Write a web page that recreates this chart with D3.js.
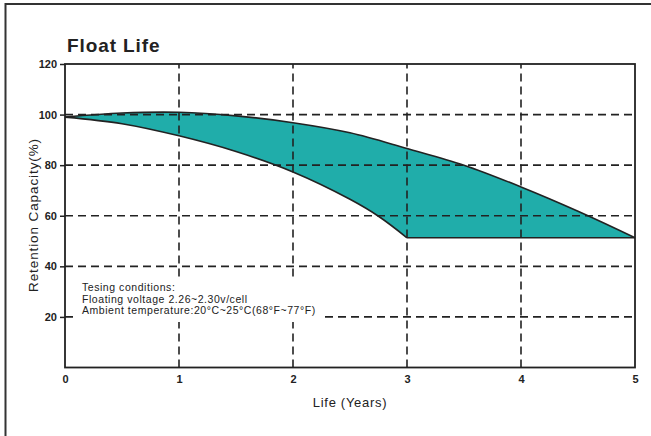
<!DOCTYPE html>
<html>
<head>
<meta charset="utf-8">
<script src="https://cdn.jsdelivr.net/npm/d3@7"></script>
<style>
  body { margin: 0; background: #fff; }
  text { font-family: "Liberation Sans", Arial, sans-serif; fill: #222; }
</style>
</head>
<body>
<svg id="chart" width="651" height="436"></svg>
<script>
// values
var years = [0, 0.5, 1, 1.5, 2, 2.5, 3, 3.5, 4, 4.5, 5];
var upperCap = [99, 100.6, 100.9, 99.5, 96.8, 92.8, 86.6, 80, 71.4, 61.8, 51.3];
var lowerYears = [0, 0.5, 1, 1.5, 2, 2.5, 2.75, 3];
var lowerCap = [99, 96.4, 91.6, 85.4, 77.3, 66.5, 59.8, 51.3];
var floorCap = 51.3; // flat end of the lower curve, year 3 to 5
var xTicks = [0, 1, 2, 3, 4, 5];
var yTicks = [20, 40, 60, 80, 100, 120];
var notes = ["Tesing conditions:", "Floating voltage 2.26~2.30v/cell", "Ambient temperature:20°C~25°C(68°F~77°F)"];

var svg = d3.select("#chart");
var pLeft = 65, pRight = 635, pTop = 64, pBottom = 367.5;

var x = d3.scaleLinear().domain([0, 5]).range([pLeft, pRight]);
var y = d3.scaleLinear().domain([0, 120]).range([pBottom, pTop]);
var smooth = d3.curveCatmullRom.alpha(0.5);

// outer frame
svg.append("path").attr("d", "M5.5,440 L5.5,4 L660,4")
  .attr("fill", "none").attr("stroke", "#333").attr("stroke-width", 2);

svg.append("text").attr("x", 67).attr("y", 52)
  .style("font-size", "19px").style("font-weight", "bold").style("letter-spacing", "0.9px").text("Float Life");

// teal band: area under upper curve down to floor, then white mask under lower curve
svg.append("path").datum(years.map(function (d, i) { return [d, upperCap[i]]; }))
  .attr("fill", "#20ADAA")
  .attr("d", d3.area().curve(smooth)
    .x(function (d) { return x(d[0]); }).y0(y(floorCap)).y1(function (d) { return y(d[1]); }));

svg.append("path").datum(lowerYears.map(function (d, i) { return [d, lowerCap[i]]; }))
  .attr("fill", "#fff")
  .attr("d", d3.area().curve(smooth)
    .x(function (d) { return x(d[0]); }).y0(y(floorCap) + 0.5).y1(function (d) { return y(d[1]); }));

// dashed grid
var grid = svg.append("g").attr("stroke", "#222").attr("stroke-width", 1.6).attr("stroke-dasharray", "8,5");
grid.selectAll(".gy").data(yTicks.filter(function (d) { return d < 120; })).enter().append("line")
  .attr("x1", pLeft).attr("x2", pRight).attr("y1", function (d) { return y(d); }).attr("y2", function (d) { return y(d); });
grid.selectAll(".gx").data(xTicks.filter(function (d) { return d > 0 && d < 5; })).enter().append("line")
  .attr("y1", pBottom).attr("y2", pTop).attr("x1", function (d) { return x(d); }).attr("x2", function (d) { return x(d); });

// curves
var line = d3.line().curve(smooth).x(function (d) { return x(d[0]); }).y(function (d) { return y(d[1]); });
svg.append("path").datum(years.map(function (d, i) { return [d, upperCap[i]]; }))
  .attr("fill", "none").attr("stroke", "#222").attr("stroke-width", 1.6).attr("d", line);
svg.append("path").datum(lowerYears.map(function (d, i) { return [d, lowerCap[i]]; }))
  .attr("fill", "none").attr("stroke", "#222").attr("stroke-width", 1.6).attr("d", line);
svg.append("path").datum([[3, floorCap], [5, floorCap]])
  .attr("fill", "none").attr("stroke", "#222").attr("stroke-width", 1.6)
  .attr("d", d3.line().x(function (d) { return x(d[0]); }).y(function (d) { return y(d[1]); }));

// notes box
svg.append("rect").attr("x", 76).attr("y", 277).attr("width", 247).attr("height", 45).attr("fill", "#fff");
svg.append("g").selectAll("text").data(notes).enter().append("text")
  .attr("x", 82).attr("y", function (d, i) { return 291 + i * 11.5; })
  .style("font-size", "10.5px").style("letter-spacing", "0.55px").text(function (d) { return d; });

// plot border
svg.append("rect").attr("x", pLeft).attr("y", pTop).attr("width", pRight - pLeft).attr("height", pBottom - pTop)
  .attr("fill", "none").attr("stroke", "#222").attr("stroke-width", 1.8);

// axes
var yAxis = svg.append("g").attr("transform", "translate(" + pLeft + ",0)")
  .call(d3.axisLeft(y).tickValues(yTicks).tickSize(5).tickPadding(3));
var xAxis = svg.append("g").attr("transform", "translate(0," + pBottom + ")")
  .call(d3.axisBottom(x).tickValues(xTicks).tickFormat(d3.format("d")).tickSize(0).tickPadding(8));
[yAxis, xAxis].forEach(function (a) {
  a.select(".domain").remove();
  a.selectAll("line").attr("stroke", "#222").attr("stroke-width", 1.5);
  a.selectAll("text").style("font-size", "11px").style("font-weight", "bold").attr("fill", "#222")
    .style("font-family", "'Liberation Sans', Arial, sans-serif");
});

svg.append("text").attr("x", 350).attr("y", 407).attr("text-anchor", "middle")
  .style("font-size", "13px").style("letter-spacing", "0.7px").text("Life (Years)");
svg.append("text").attr("transform", "translate(38,215) rotate(-90)").attr("text-anchor", "middle")
  .style("font-size", "13.5px").style("letter-spacing", "0.9px").text("Retention Capacity(%)");
</script>
</body>
</html>
